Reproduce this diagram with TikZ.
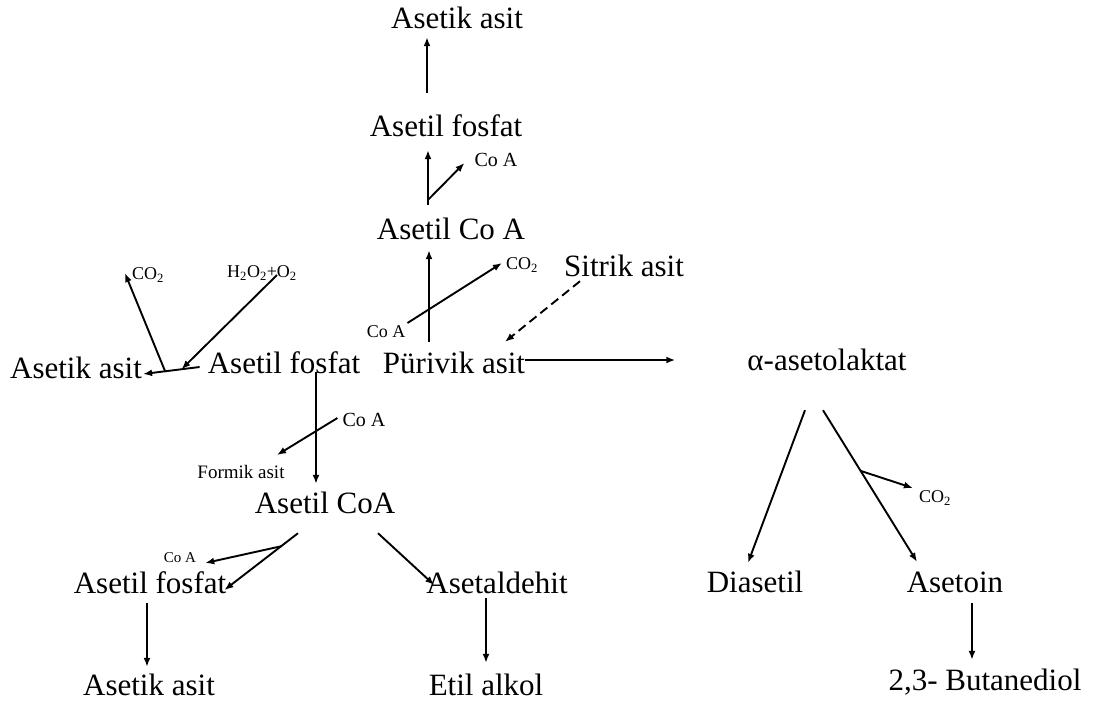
\documentclass[tikz,border=0pt]{standalone}
\usepackage{fontspec}
\setmainfont{Liberation Serif}
\usetikzlibrary{arrows.meta}

\tikzset{
	big/.style={font=\fontsize{31}{36}\selectfont, inner sep=0pt, text height=22pt, text depth=6pt, anchor=base},
	sml/.style={font=\fontsize{#1}{#1}\selectfont, inner sep=0pt},
	sml/.default=18,
	arr/.style={-{Latex[length=9pt,width=7pt]}, line width=1.9pt},
	dsh/.style={dash pattern=on 9pt off 5pt},
}

\begin{document}
\begin{tikzpicture}[x=1pt,y=-1pt]
	\useasboundingbox (0,0) rectangle (1100,713);

	%metabolites
	\node[big] (asT)  at (457,28)  {Asetik asit};
	\node[big] (fosT) at (446,136) {Asetil fosfat};
	\node[big] (coaT) at (451,239) {Asetil Co A};
	\node[big] (sit)  at (624,276) {Sitrik asit};
	\node[big] (asM)  at (76,378)  {Asetik asit};
	\node[big] (fosM) at (284,373) {Asetil fosfat};
	\node[big] (pir)  at (454,373) {Pürivik asit};
	\node[big] (alfa) at (827,370) {α-asetolaktat};
	\node[big] (coaM) at (325,513) {Asetil CoA};
	\node[big] (fosB) at (150,593) {Asetil fosfat};
	\node[big] (ald)  at (497,593) {Asetaldehit};
	\node[big] (asB)  at (149,695) {Asetik asit};
	\node[big] (etil) at (486,695) {Etil alkol};
	\node[big] (dia)  at (755,592) {Diasetil};
	\node[big] (aso)  at (955,592) {Asetoin};
	\node[big] (but)  at (985,690) {2,3- Butanediol};

	%side products
	\node[sml=20] (coa1)   at (496,160) {Co A};
	\node[sml]    (co2a)   at (522,265) {CO\textsubscript{2}};
	\node[sml]    (coa2)   at (386,332) {Co A};
	\node[sml]    (co2L)   at (148,275) {CO\textsubscript{2}};
	\node[sml]    (h2o2)   at (262,273) {H\textsubscript{2}O\textsubscript{2}+O\textsubscript{2}};
	\node[sml=20] (coa3)   at (364,420) {Co A};
	\node[sml=19] (formik) at (241,472) {Formik asit};
	\node[sml=15] (coa4)   at (180,558) {Co A};
	\node[sml]    (co2R)   at (935,498) {CO\textsubscript{2}};

	%top column
	\draw[arr] ([shift={(-19,-21)}]fosT.north) -- ([shift={(-30,3)}]asT.south);
	\draw[arr] ([shift={(-23,-12)}]coaT.north) -- ([shift={(-18,8)}]fosT.south) coordinate[pos=.09] (b1);
		\draw[arr] (b1) -- ([shift={(-10,3)}]coa1.west);
	\draw[arr] ([shift={(-25,-9)}]pir.north) -- ([shift={(-22,5)}]coaT.south);
		\draw[arr] ([shift={(2,-9)}]coa2.east) -- ([shift={(-4,-2)}]co2a.west);

	%citrate
	\draw[arr,dsh] ([shift={(-44,-1)}]sit.south) -- ([shift={(51,-9)}]pir.north);

	%to alpha-acetolactate
	\draw[arr] ([shift={(0,-5)}]pir.east) -- ([shift={(-72,-2)}]alfa.west);

	%left branch
	\draw[arr] ([shift={(-8,2)}]fosM.west) -- ([shift={(1,4)}]asM.east)
		coordinate[pos=.32] (b3) coordinate[pos=.61] (b2);
		\draw[arr] (b2) -- ([shift={(-7,-2)}]co2L.west);
		\draw[arr] ([shift={(15,2)}]h2o2.center) -- (b3);

	%down to acetyl CoA
	\draw[arr] ([shift={(32,-7)}]fosM.south) -- ([shift={(-9,-7)}]coaM.north);
		\draw[arr] ([shift={(-5,-2)}]coa3.west) -- ([shift={(36,-17)}]formik.center);

	%lower left
	\draw[arr] ([shift={(-27,14)}]coaM.south) -- ([shift={(-2,5)}]fosB.east) coordinate[pos=.23] (b4);
		\draw[arr] (b4) -- ([shift={(9,5)}]coa4.east);
	\draw[arr] ([shift={(53,14)}]coaM.south) -- ([shift={(8,0)}]ald.west);
	\draw[arr] ([shift={(-3,4)}]fosB.south) -- ([shift={(-2,-6)}]asB.north);
	\draw[arr] ([shift={(-11,-1)}]ald.south) -- ([shift={(0,-10)}]etil.north);

	%right branch
	\draw[arr] ([shift={(-22,34)}]alfa.south) -- ([shift={(-7,-7)}]dia.north);
	\draw[arr] ([shift={(-4,34)}]alfa.south) -- ([shift={(-38,-8)}]aso.north) coordinate[pos=.4] (b5);
		\draw[arr] (b5) -- ([shift={(-6,-10)}]co2R.west);
	\draw[arr] ([shift={(17,5)}]aso.south) -- ([shift={(-13,-8)}]but.north);
\end{tikzpicture}
\end{document}
